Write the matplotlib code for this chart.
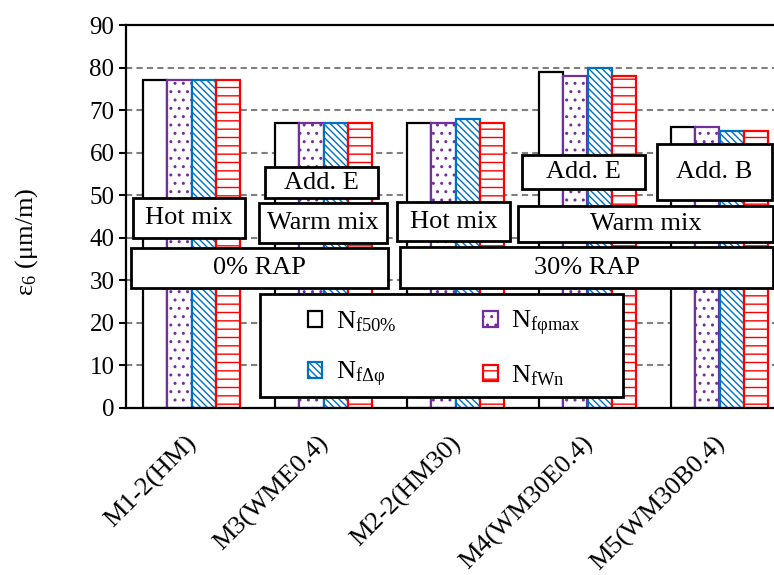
import matplotlib
matplotlib.use('Agg')
import matplotlib.pyplot as plt
from matplotlib.patches import Rectangle, Patch
import matplotlib.transforms as mtransforms
import numpy as np

plt.rcParams['font.family'] = ['Liberation Serif', 'DejaVu Serif']
plt.rcParams['mathtext.fontset'] = 'custom'
plt.rcParams['mathtext.rm'] = 'Liberation Serif'
plt.rcParams['mathtext.it'] = 'Liberation Serif:italic'
plt.rcParams['mathtext.bf'] = 'Liberation Serif:bold'
plt.rcParams['hatch.linewidth'] = 1.0

# ---- data ----
categories = ['M1-2(HM)', 'M3(WME0.4)', 'M2-2(HM30)', 'M4(WM30E0.4)', 'M5(WM30B0.4)']
series_labels = [r'N$_{\mathrm{f50\%}}$', r'N$_{\mathrm{fφmax}}$',
                 r'N$_{\mathrm{fΔφ}}$', r'N$_{\mathrm{fWn}}$']
nf50 = [77, 67, 67, 79, 66]
nfphimax = [77, 67, 67, 78, 66]
nfdphi = [77, 67, 68, 80, 65]
nfwn = [77, 67, 67, 78, 65]
yticks = [0, 10, 20, 30, 40, 50, 60, 70, 80, 90]
ylabel = r'ε$_6$ (μm/m)'

# annotation boxes: text, x0, x1, y0, y1 (data units)
box_texts = ['Hot mix', 'Add. E', 'Warm mix', 'Hot mix', 'Add. E', 'Add. B',
             'Warm mix', '0% RAP', '30% RAP']
box_x0 = [-0.443, 0.557, 0.511, 1.557, 2.503, 3.527, 2.473, -0.458, 1.58]
box_x1 = [0.405, 1.413, 1.481, 2.413, 3.436, 4.398, 4.405, 1.489, 4.405]
box_y0 = [40.0, 49.3, 38.8, 39.2, 51.5, 48.9, 39.0, 28.2, 28.2]
box_y1 = [49.3, 56.6, 48.2, 48.4, 59.5, 62.0, 47.5, 37.6, 37.8]

series = [nf50, nfphimax, nfdphi, nfwn]
edge_colors = ['black', '#7030A0', '#0070C0', '#FF0000']
hatches = [None, '..', '\\\\\\\\\\', '--']

fig = plt.figure(figsize=(7.74, 5.75), dpi=100)
ax = fig.add_axes([125.5 / 774, 167 / 575, 660 / 774, 383 / 575])

x = np.arange(len(categories))
w = 0.182
for i, (vals, ec, h) in enumerate(zip(series, edge_colors, hatches)):
    ax.bar(x + (i - 1.5) * w, vals, width=w, facecolor='white', edgecolor=ec,
           hatch=h, linewidth=1.6, zorder=2)

ax.set_xlim(-0.5, len(categories) - 0.5)
ax.set_ylim(0, 90)
ax.set_yticks(yticks)
ax.tick_params(axis='y', direction='out', length=5, width=1.5, labelsize=18, pad=3)
ax.tick_params(axis='x', length=0, labelsize=19, pad=23)
ax.set_xticks(x)
ax.set_xticklabels(categories, rotation=45, ha='right', va='center',
                   rotation_mode='anchor')
off = mtransforms.ScaledTranslation(2 / 100, 0, fig.dpi_scale_trans)
for lab in ax.get_xticklabels():
    lab.set_transform(lab.get_transform() + off)
for y in yticks[1:-1]:
    ax.axhline(y, color='#808080', linewidth=1.5, linestyle=(0, (3, 2)), zorder=1)
for s in ax.spines.values():
    s.set_linewidth(1.6)
ax.set_ylabel(ylabel, fontsize=19)
ax.yaxis.set_label_coords(-0.13, 0.433)

for t, x0, x1, y0, y1 in zip(box_texts, box_x0, box_x1, box_y0, box_y1):
    ax.add_patch(Rectangle((x0, y0), x1 - x0, y1 - y0, facecolor='white',
                           edgecolor='black', linewidth=2, zorder=5, clip_on=False))
    ax.text((x0 + x1) / 2, (y0 + y1) / 2, t, ha='center', va='center',
            fontsize=19, zorder=6)

# legend frame
lx0, lx1, ly0, ly1 = 0.519, 3.27, 2.6, 26.8
ax.add_patch(Rectangle((lx0, ly0), lx1 - lx0, ly1 - ly0, facecolor='white',
                       edgecolor='black', linewidth=2, zorder=5))
handles = [Patch(facecolor='white', edgecolor=ec, hatch=h, linewidth=1.6)
           for ec, h in zip(edge_colors, hatches)]
order = [0, 2, 1, 3]
leg = ax.legend([handles[i] for i in order], [series_labels[i] for i in order],
                ncol=2, loc='center',
                bbox_to_anchor=((lx0 + lx1) / 2 + 0.02, (ly0 + ly1) / 2 - 0.8),
                bbox_transform=ax.transData, frameon=False, fontsize=19,
                handlelength=0.55, handleheight=0.55, handletextpad=0.5,
                columnspacing=3.3, labelspacing=0.98)
leg.set_zorder(7)

fig.savefig('out.png', dpi=100)
